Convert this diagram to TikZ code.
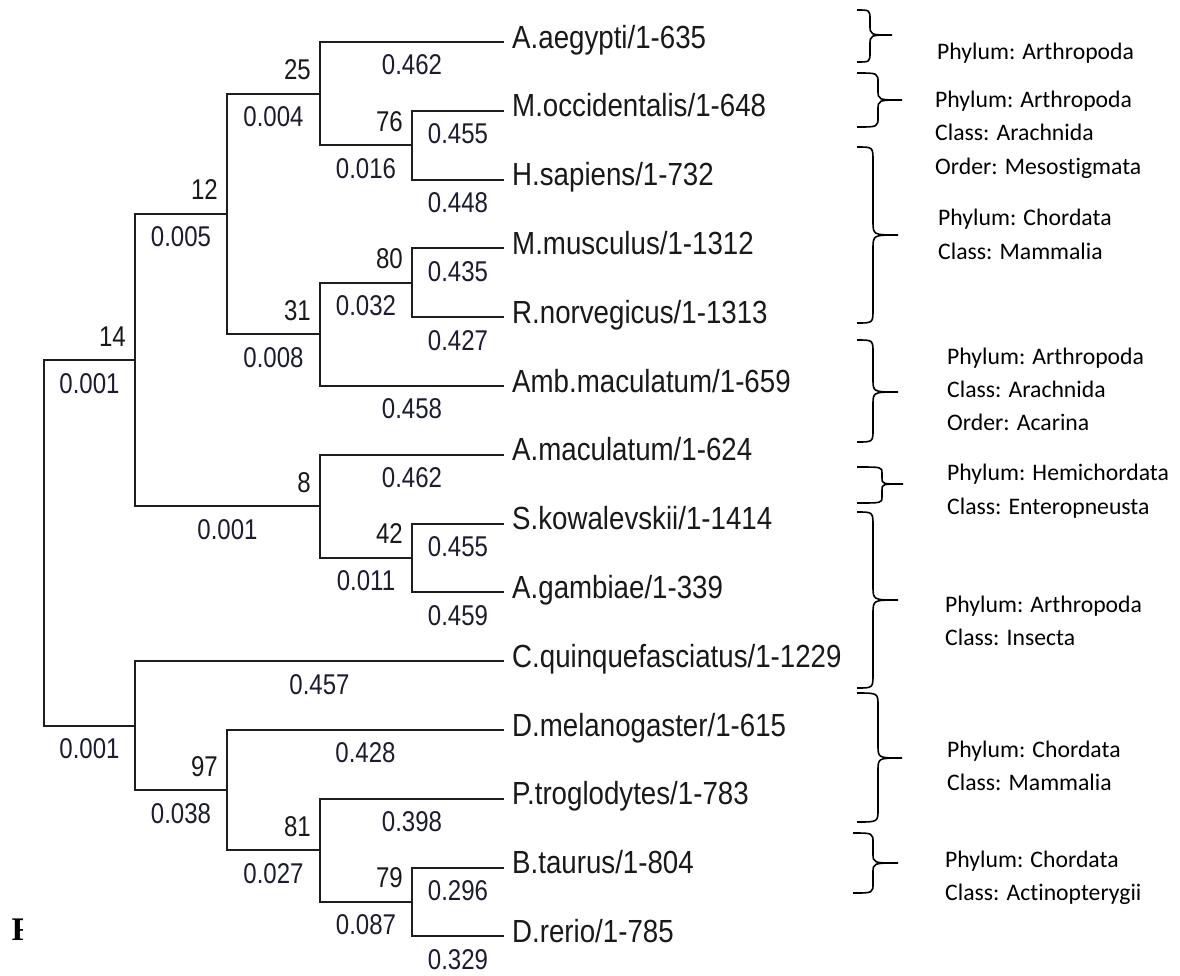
\documentclass[tikz,border=0pt]{standalone}
\usepackage{fontspec}
\setmainfont{Liberation Sans}
\newfontfamily\calib[Ligatures=NoCommon]{Carlito}
\newfontfamily\serifb{Liberation Serif}
\usepackage{graphicx}
\definecolor{blen}{RGB}{28,28,48}
\definecolor{treec}{RGB}{30,30,30}
\newcommand{\sqzleaf}[1]{\scalebox{0.865}[1]{#1}}
\newcommand{\sqznum}[1]{\scalebox{0.84}[1]{#1}}
\tikzset{
  br/.style={line width=2pt, draw=treec},
  brc/.style={line width=1.6pt, draw=black},
  leaf/.style={anchor=base west, inner sep=0pt, text=black!90, font=\fontsize{32}{36}\selectfont},
  blab/.style={inner sep=0pt, text=blen, font=\fontsize{28.6}{32}\selectfont},
  boot/.style={inner sep=0pt, anchor=east, text=black!90, font=\fontsize{28.6}{32}\selectfont},
  tax/.style={anchor=base west, inner sep=0pt, font=\calib\fontsize{23.7}{28}\selectfont},
}
\newcommand{\branch}[3]{\draw[br] (#1) |- (#2) node[blab, pos=0.75, yshift=-23pt] {\sqznum{#3}};}
\newcommand{\bootlab}[3]{\node[boot, xshift=-9pt, yshift=24pt] (#1) at (#2) {\sqznum{#3}};}
\newcommand{\cbrace}[7]{%
  \draw[brc] (#1,#4) .. controls (#2,#4) .. (#2,#4+#7) -- (#2,#5-#7)
    .. controls (#2,#5) .. (#3,#5) .. controls (#2,#5) .. (#2,#5+#7)
    -- (#2,#6-#7) .. controls (#2,#6) .. (#1,#6);}
\begin{document}
\begin{tikzpicture}[x=1pt, y=-1pt]
\useasboundingbox[fill=white] (0,0) rectangle (1180,975);

% leaf end points
\coordinate (L0) at (504,42);
\coordinate (L1) at (504,110.8);
\coordinate (L2) at (504,179.6);
\coordinate (L3) at (504,248.4);
\coordinate (L4) at (504,317.2);
\coordinate (L5) at (504,386);
\coordinate (L6) at (504,454.8);
\coordinate (L7) at (504,523.6);
\coordinate (L8) at (504,592.4);
\coordinate (L9) at (504,661.2);
\coordinate (L10) at (504,730);
\coordinate (L11) at (504,798.8);
\coordinate (L12) at (504,867.6);
\coordinate (L13) at (504,936.4);

% internal nodes
\coordinate (n76) at (412,145.2);
\coordinate (n25) at (320,93.6);
\coordinate (n80) at (412,282.8);
\coordinate (n31) at (320,334.4);
\coordinate (n12) at (227,214);
\coordinate (n42) at (412,558);
\coordinate (n8) at (320,506.4);
\coordinate (n14) at (135,360.2);
\coordinate (n79) at (412,902);
\coordinate (n81) at (320,850.4);
\coordinate (n97) at (227,790.2);
\coordinate (nC) at (135,725.7);
\coordinate (root) at (44,543);

% branches
\branch{root}{n14}{0.001}
\branch{root}{nC}{0.001}
\branch{n14}{n12}{0.005}
\branch{n14}{n8}{0.001}
\branch{n12}{n25}{0.004}
\branch{n12}{n31}{0.008}
\branch{n25}{L0}{0.462}
\branch{n25}{n76}{0.016}
\branch{n76}{L1}{0.455}
\branch{n76}{L2}{0.448}
\branch{n31}{n80}{0.032}
\branch{n31}{L5}{0.458}
\branch{n80}{L3}{0.435}
\branch{n80}{L4}{0.427}
\branch{n8}{L6}{0.462}
\branch{n8}{n42}{0.011}
\branch{n42}{L7}{0.455}
\branch{n42}{L8}{0.459}
\branch{nC}{L9}{0.457}
\branch{nC}{n97}{0.038}
\branch{n97}{L10}{0.428}
\branch{n97}{n81}{0.027}
\branch{n81}{L11}{0.398}
\branch{n81}{n79}{0.087}
\branch{n79}{L12}{0.296}
\branch{n79}{L13}{0.329}

% bootstrap values
\bootlab{b25}{n25}{25}
\bootlab{b76}{n76}{76}
\bootlab{b12}{n12}{12}
\bootlab{b80}{n80}{80}
\bootlab{b31}{n31}{31}
\bootlab{b14}{n14}{14}
\bootlab{b8}{n8}{8}
\bootlab{b42}{n42}{42}
\bootlab{b97}{n97}{97}
\bootlab{b81}{n81}{81}
\bootlab{b79}{n79}{79}

% leaf labels
\node[leaf] (t0) at (512,48) {\sqzleaf{A.aegypti/1-635}};
\node[leaf] (t1) at (512,116.8) {\sqzleaf{M.occidentalis/1-648}};
\node[leaf] (t2) at (512,185.6) {\sqzleaf{H.sapiens/1-732}};
\node[leaf] (t3) at (512,254.4) {\sqzleaf{M.musculus/1-1312}};
\node[leaf] (t4) at (512,323.2) {\sqzleaf{R.norvegicus/1-1313}};
\node[leaf] (t5) at (512,392) {\sqzleaf{Amb.maculatum/1-659}};
\node[leaf] (t6) at (512,460.8) {\sqzleaf{A.maculatum/1-624}};
\node[leaf] (t7) at (512,529.6) {\sqzleaf{S.kowalevskii/1-1414}};
\node[leaf] (t8) at (512,598.4) {\sqzleaf{A.gambiae/1-339}};
\node[leaf] (t9) at (512,667.2) {\sqzleaf{C.quinquefasciatus/1-1229}};
\node[leaf] (t10) at (512,736) {\sqzleaf{D.melanogaster/1-615}};
\node[leaf] (t11) at (512,804.8) {\sqzleaf{P.troglodytes/1-783}};
\node[leaf] (t12) at (512,873.6) {\sqzleaf{B.taurus/1-804}};
\node[leaf] (t13) at (512,942.4) {\sqzleaf{D.rerio/1-785}};

% braces
\cbrace{857}{870}{892}{10}{35}{62}{10}
\cbrace{857}{878}{902}{73}{100}{127}{10}
\cbrace{857}{873}{898}{147}{235}{323}{14}
\cbrace{857}{873}{898}{340}{392}{442}{13}
\cbrace{857}{882}{903}{467}{484}{503}{6}
\cbrace{857}{873}{898}{512}{600}{688}{14}
\cbrace{857}{878}{902}{693}{758}{822}{13}
\cbrace{853}{873}{898}{833}{863}{893}{10}

% taxonomy texts
\node[tax] (x1a) at (937,59.5) {Phylum: Arthropoda};
\node[tax] (x2a) at (935,107.5) {Phylum: Arthropoda};
\node[tax] (x2b) at (935,140.5) {Class: Arachnida};
\node[tax] (x2c) at (935,174.5) {Order: Mesost\kern0pt igmata};
\node[tax] (x3a) at (938,225.5) {Phylum: Chordata};
\node[tax] (x3b) at (938,259.5) {Class: Mammalia};
\node[tax] (x4a) at (947,364.5) {Phylum: Arthropoda};
\node[tax] (x4b) at (947,397.5) {Class: Arachnida};
\node[tax] (x4c) at (947,430.5) {Order: Acarina};
\node[tax] (x5a) at (947,480.5) {Phylum: Hemichordata};
\node[tax] (x5b) at (947,514.5) {Class: Enteropneusta};
\node[tax] (x6a) at (945,612.5) {Phylum: Arthropoda};
\node[tax] (x6b) at (945,645.5) {Class: Insecta};
\node[tax] (x7a) at (947,757.5) {Phylum: Chordata};
\node[tax] (x7b) at (947,790.5) {Class: Mammalia};
\node[tax] (x8a) at (945,867.5) {Phylum: Chordata};
\node[tax] (x8b) at (945,900.5) {Class: Act\kern0pt inopterygii};

% clipped caption letter
\begin{scope}
\clip (0,900) rectangle (22.5,960);
\node[anchor=base west, inner sep=0pt, font=\serifb\bfseries\fontsize{33}{36}\selectfont] (figF) at (11.5,940) {F};
\end{scope}
\end{tikzpicture}
\end{document}
